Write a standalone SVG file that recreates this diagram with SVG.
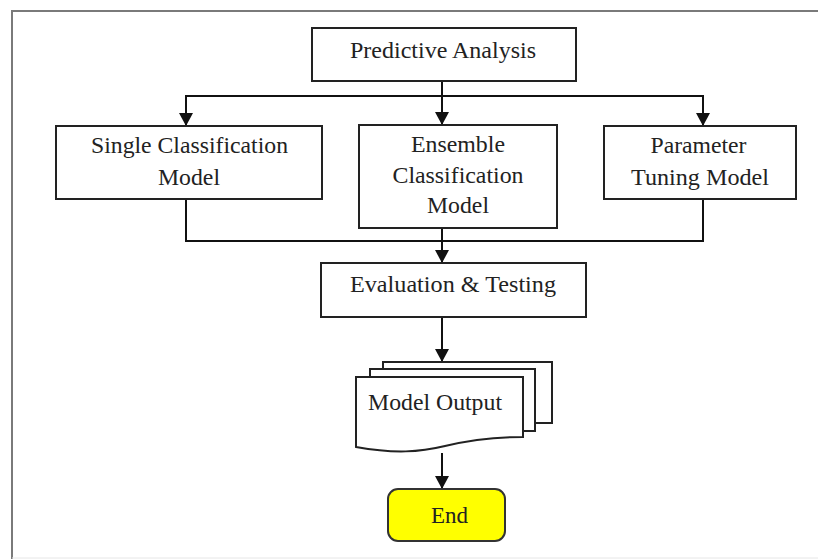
<svg xmlns="http://www.w3.org/2000/svg" width="818" height="559" viewBox="0 0 818 559">
<style>
.box{fill:#fff;stroke:#222;stroke-width:2}
.t{font-family:"Liberation Serif","Times New Roman",serif;font-size:23px;fill:#222;text-anchor:middle}
.c{fill:none;stroke:#111;stroke-width:2}
.frame{fill:none;stroke:#7a7a7a;stroke-width:2}
</style>
<defs>
<marker id="ah" markerUnits="userSpaceOnUse" markerWidth="14" markerHeight="14" refX="13" refY="7" orient="auto">
<path d="M0,0 L13,7 L0,14 z" fill="#111"/>
</marker>
</defs>
<rect width="818" height="559" fill="#fff"/>
<path class="frame" d="M12,559 V11 H818"/>
<line x1="12" y1="558" x2="818" y2="558" stroke="#e6e6e6" stroke-width="1"/>

<g id="connectors">
<line class="c" x1="442" y1="81" x2="442" y2="125" marker-end="url(#ah)"/>
<path class="c" d="M186,126 V96 H703 V126"/>
<line class="c" x1="186" y1="96" x2="186" y2="126" marker-end="url(#ah)"/>
<line class="c" x1="703" y1="96" x2="703" y2="126" marker-end="url(#ah)"/>
<path class="c" d="M186,199 V241 H703 V199"/>
<line class="c" x1="442" y1="228" x2="442" y2="263" marker-end="url(#ah)"/>
<line class="c" x1="442" y1="318" x2="442" y2="362" marker-end="url(#ah)"/>
<line class="c" x1="442" y1="453" x2="442" y2="489" marker-end="url(#ah)"/>
</g>

<g id="predictive">
<rect class="box" x="312" y="28" width="264" height="53"/>
<text class="t" x="443" y="58" textLength="186" lengthAdjust="spacingAndGlyphs">Predictive Analysis</text>
</g>

<g id="single">
<rect class="box" x="56" y="126" width="266" height="73"/>
<text class="t" x="189.5" y="153" textLength="197" lengthAdjust="spacingAndGlyphs">Single Classification</text>
<text class="t" x="189" y="185" textLength="62" lengthAdjust="spacingAndGlyphs">Model</text>
</g>

<g id="ensemble">
<rect class="box" x="359" y="125" width="198" height="103"/>
<text class="t" x="458" y="152" textLength="94" lengthAdjust="spacingAndGlyphs">Ensemble</text>
<text class="t" x="458" y="183" textLength="131" lengthAdjust="spacingAndGlyphs">Classification</text>
<text class="t" x="458" y="213" textLength="62" lengthAdjust="spacingAndGlyphs">Model</text>
</g>

<g id="parameter">
<rect class="box" x="604" y="126" width="192" height="73"/>
<text class="t" x="698.5" y="153" textLength="96" lengthAdjust="spacingAndGlyphs">Parameter</text>
<text class="t" x="700" y="185" textLength="138" lengthAdjust="spacingAndGlyphs">Tuning Model</text>
</g>

<g id="evaluation">
<rect class="box" x="321" y="263" width="265" height="54"/>
<text class="t" x="453" y="292" textLength="206" lengthAdjust="spacingAndGlyphs">Evaluation &amp; Testing</text>
</g>

<g id="model-output">
<path class="box" d="M383,362 H552 V423 H535 V369 H383 Z"/>
<path class="box" d="M370,369 H535 V431 H523 V377 H370 Z"/>
<path class="box" d="M356,377 H523 V437 C495,437 470,440 445,446 C420,452 395,454 356,447 Z"/>
<text class="t" x="368" y="410" text-anchor="start" style="text-anchor:start" textLength="134" lengthAdjust="spacingAndGlyphs">Model Output</text>
</g>

<g id="end">
<rect x="388" y="489" width="117" height="52" rx="10" ry="10" fill="#ffff00" stroke="#333" stroke-width="2"/>
<text class="t" x="449.5" y="523" textLength="37" lengthAdjust="spacingAndGlyphs">End</text>
</g>
</svg>
